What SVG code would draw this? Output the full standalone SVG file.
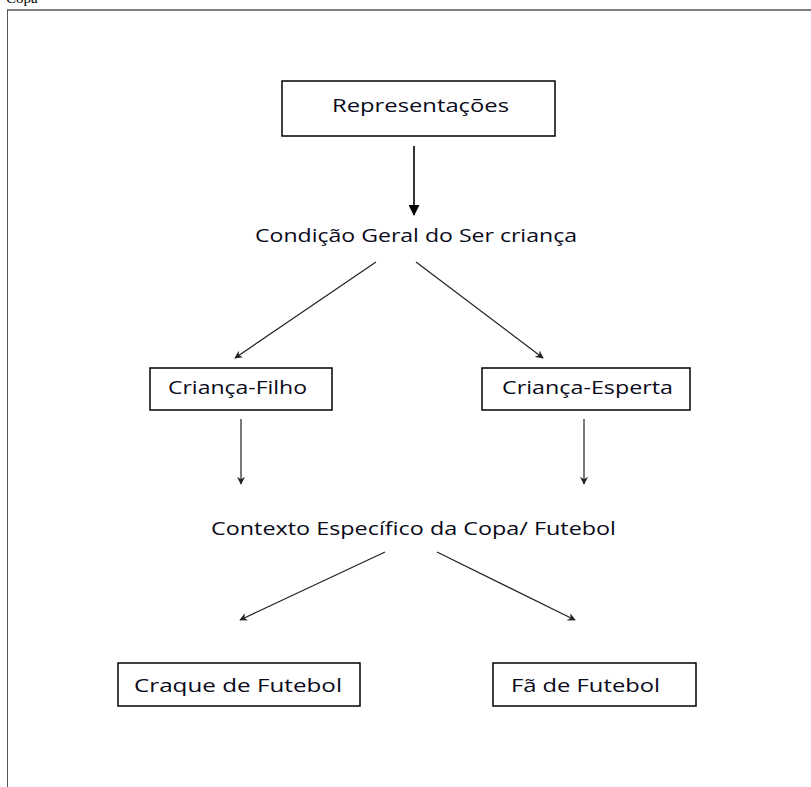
<svg xmlns="http://www.w3.org/2000/svg" width="811" height="787" viewBox="0 0 811 787">
  <style>
    .box { fill: #ffffff; stroke: #000000; stroke-width: 1.5; }
    .lbl { font-family: "Open Sans", "Noto Sans", sans-serif; font-size: 19px; fill: #0a0a1a; }
    .thin { stroke: #222222; stroke-width: 1.2; fill: none; marker-end: url(#small); }
    .thick { stroke: #000000; stroke-width: 1.6; fill: none; marker-end: url(#big); }
  </style>
  <defs>
    <marker id="small" viewBox="0 0 10 10" refX="9" refY="5" markerWidth="8" markerHeight="8" markerUnits="userSpaceOnUse" orient="auto">
      <path d="M0,0 L10,5 L0,10 L3,5 Z" fill="#222222"/>
    </marker>
    <marker id="big" viewBox="0 0 10 10" refX="9" refY="5" markerWidth="13" markerHeight="11" markerUnits="userSpaceOnUse" orient="auto">
      <path d="M0,0 L10,5 L0,10 Z" fill="#000000"/>
    </marker>
  </defs>
  <rect x="0" y="0" width="811" height="787" fill="#ffffff"/>
  <text x="6" y="3" font-family="Liberation Serif, serif" font-size="15" fill="#000">Copa</text>
  <line x1="7" y1="10" x2="811" y2="10" stroke="#808080" stroke-width="2"/>
  <line x1="7.5" y1="10" x2="7.5" y2="787" stroke="#555555" stroke-width="1"/>

  <g id="connectors">
    <line class="thick" x1="414" y1="146" x2="414" y2="215"/>
    <line class="thin" x1="376" y1="262" x2="235" y2="358"/>
    <line class="thin" x1="416" y1="262" x2="543" y2="358"/>
    <line class="thin" x1="241" y1="419" x2="241" y2="484"/>
    <line class="thin" x1="584" y1="419" x2="584" y2="484"/>
    <line class="thin" x1="385" y1="552" x2="240" y2="620"/>
    <line class="thin" x1="437" y1="552" x2="575" y2="620"/>
  </g>

  <g id="representacoes">
    <rect class="box" x="282" y="81" width="273" height="55"/>
    <text class="lbl" x="332" y="112" textLength="177" lengthAdjust="spacingAndGlyphs">Representações</text>
  </g>
  <g id="condicao">
    <text class="lbl" x="255" y="242" textLength="322" lengthAdjust="spacingAndGlyphs">Condição Geral do Ser criança</text>
  </g>
  <g id="crianca-filho">
    <rect class="box" x="150" y="368" width="182" height="42"/>
    <text class="lbl" x="168" y="394" textLength="139" lengthAdjust="spacingAndGlyphs">Criança-Filho</text>
  </g>
  <g id="crianca-esperta">
    <rect class="box" x="482" y="368" width="208" height="42"/>
    <text class="lbl" x="502" y="394" textLength="171" lengthAdjust="spacingAndGlyphs">Criança-Esperta</text>
  </g>
  <g id="contexto">
    <text class="lbl" x="211" y="535" textLength="405" lengthAdjust="spacingAndGlyphs">Contexto Específico da Copa/ Futebol</text>
  </g>
  <g id="craque">
    <rect class="box" x="118" y="663" width="242" height="43"/>
    <text class="lbl" x="134" y="692" textLength="208" lengthAdjust="spacingAndGlyphs">Craque de Futebol</text>
  </g>
  <g id="fa">
    <rect class="box" x="493" y="663" width="203" height="43"/>
    <text class="lbl" x="511" y="692" textLength="149" lengthAdjust="spacingAndGlyphs">Fã de Futebol</text>
  </g>
</svg>
